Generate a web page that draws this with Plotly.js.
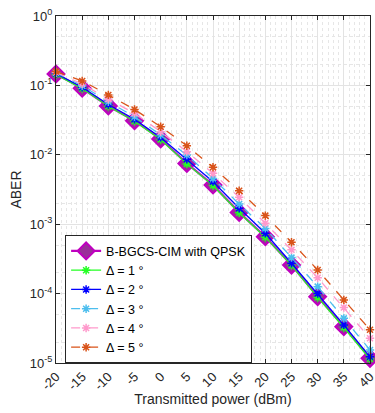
<!DOCTYPE html>
<html><head><meta charset="utf-8">
<script src="https://cdn.plot.ly/plotly-3.0.1.min.js"></script>
<style>html,body{margin:0;padding:0;background:#fff}#c{width:375px;height:413px}</style>
</head><body><div id="c"></div>
<script>
const power = [-20,-15,-10,-5,0,5,10,15,20,25,30,35,40];
const aberQPSK = [0.146,0.091,0.0505,0.031,0.0169,0.0075,0.00367,0.00148,0.00066,0.000258,0.0000904,0.0000334,0.0000117];
const aberD1 = [0.144,0.090,0.050,0.0305,0.0166,0.0074,0.0036,0.00146,0.00065,0.000255,0.000088,0.0000325,0.0000114];
const aberD2 = [0.148,0.094,0.053,0.0325,0.0178,0.0086,0.0041,0.0017,0.00074,0.000274,0.0001,0.0000354,0.0000123];
const aberD3 = [0.152,0.099,0.058,0.0354,0.0193,0.0099,0.00457,0.00195,0.00087,0.00033,0.000126,0.000044,0.0000154];
const aberD4 = [0.155,0.105,0.063,0.0397,0.0215,0.0111,0.0054,0.00245,0.00103,0.000427,0.000169,0.0000629,0.0000227];
const aberD5 = [0.158,0.116,0.073,0.045,0.0254,0.0135,0.0066,0.00304,0.00133,0.00055,0.000219,0.0000811,0.0000301];
const legendNames = ['B-BGCS-CIM with QPSK','Δ = 1 °','Δ = 2 °','Δ = 3 °','Δ = 4 °','Δ = 5 °'];
const xTicks = [-20,-15,-10,-5,0,5,10,15,20,25,30,35,40];
const yTickVals = [1,0.1,0.01,0.001,0.0001,0.00001];
const yTickText = ['10<sup>0</sup>','10<sup>-1</sup>','10<sup>-2</sup>','10<sup>-3</sup>','10<sup>-4</sup>','10<sup>-5</sup>'];

const styles = [
  {color:'#bf00bf', width:2.2, dash:'solid', sym:'diamond', size:13, fill:'#9a2f9a', lw:2},
  {color:'#22ff22', width:1.3, dash:'solid', sym:'asterisk-open', size:7},
  {color:'#0000ff', width:1.3, dash:'solid', sym:'asterisk-open', size:7},
  {color:'#4dbeee', width:1.3, dash:'dash', sym:'asterisk-open', size:7},
  {color:'#ff99cc', width:1.3, dash:'dash', sym:'asterisk-open', size:7},
  {color:'#d95319', width:1.3, dash:'dash', sym:'asterisk-open', size:7}
];
const series = [aberQPSK, aberD1, aberD2, aberD3, aberD4, aberD5];
const traces = series.map((ys,i)=>{
  const s = styles[i];
  const m = s.sym==='diamond'
    ? {symbol:'diamond', size:s.size, color:s.fill, line:{color:s.color, width:s.lw}}
    : {symbol:s.sym, size:s.size, color:s.color, line:{color:s.color, width:1.5}};
  return {x:power, y:ys, name:legendNames[i], type:'scatter', mode:'lines+markers',
    line:{color:s.color, width:s.width, dash:s.dash}, marker:m, cliponaxis:false};
});

const layout = {
  width:375, height:413,
  margin:{l:56, r:5, t:16, b:50},
  paper_bgcolor:'#fff', plot_bgcolor:'#fff',
  font:{family:'Liberation Sans, Arial, sans-serif', size:12, color:'#262626'},
  showlegend:true,
  legend:{x:0.029, y:0.368, xanchor:'left', yanchor:'top', bgcolor:'#fff',
    bordercolor:'#262626', borderwidth:1, font:{size:12.5, color:'#000'},
    tracegroupgap:0, itemwidth:30},
  xaxis:{range:[-20,40.0001], tickvals:xTicks, ticktext:xTicks.map(String), tickangle:-45,
    ticklabeloverflow:'allow',
    ticks:'inside', ticklen:4, tickcolor:'#262626', showline:true, mirror:'ticks',
    linecolor:'#262626', linewidth:1, showgrid:true, gridcolor:'#e3e3e3', gridwidth:1,
    zeroline:false, tickfont:{size:13, color:'#262626'},
    minor:{dtick:1, showgrid:true, gridcolor:'#e6e6e6', griddash:'dot', ticks:''},
    title:{text:'Transmitted power (dBm)', font:{size:14, color:'#262626'}, standoff:2}},
  yaxis:{type:'log', range:[-5,0], tickvals:yTickVals, ticktext:yTickText,
    ticks:'inside', ticklen:4, tickcolor:'#262626', showline:true, mirror:'ticks',
    linecolor:'#262626', linewidth:1, showgrid:true, gridcolor:'#e3e3e3', gridwidth:1,
    zeroline:false, tickfont:{size:13, color:'#262626'},
    minor:{showgrid:true, gridcolor:'#e6e6e6', griddash:'dot', ticks:''},
    title:{text:'ABER', font:{size:14, color:'#262626'}, standoff:4}}
};
Plotly.newPlot('c', traces, layout, {displayModeBar:false, staticPlot:true});
</script></body></html>
